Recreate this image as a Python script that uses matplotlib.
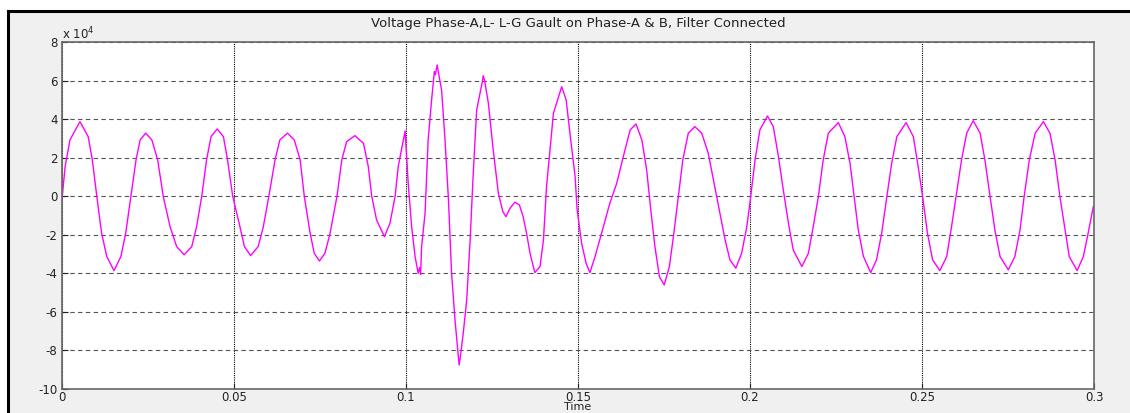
import matplotlib.pyplot as plt
from matplotlib.patches import Rectangle
from matplotlib.lines import Line2D

# time (s) and voltage (x 1e4 V)
time = [0.0000, 0.0010, 0.0024, 0.0053, 0.0077, 0.0089, 0.0102, 0.0116, 0.0131, 0.0152,
        0.0172, 0.0186, 0.0201, 0.0216, 0.0228, 0.0244, 0.0262, 0.0279, 0.0295, 0.0315,
        0.0334, 0.0356, 0.0378, 0.0392, 0.0407, 0.0421, 0.0434, 0.0452, 0.0470, 0.0482,
        0.0497, 0.0518, 0.0531, 0.0549, 0.0571, 0.0586, 0.0602, 0.0620, 0.0634, 0.0656,
        0.0676, 0.0693, 0.0705, 0.0722, 0.0734, 0.0749, 0.0765, 0.0780, 0.0800, 0.0814,
        0.0828, 0.0852, 0.0877, 0.0891, 0.0901, 0.0915, 0.0938, 0.0954, 0.0969, 0.0978,
        0.0998, 0.1007, 0.1017, 0.1027, 0.1036, 0.1040, 0.1043, 0.1046, 0.1056, 0.1065,
        0.1075, 0.1083, 0.1086, 0.1091, 0.1094, 0.1104, 0.1114, 0.1124, 0.1133, 0.1143,
        0.1152, 0.1155, 0.1158, 0.1167, 0.1177, 0.1187, 0.1196, 0.1206, 0.1222, 0.1225,
        0.1229, 0.1240, 0.1254, 0.1269, 0.1282, 0.1291, 0.1303, 0.1317, 0.1330, 0.1341,
        0.1351, 0.1361, 0.1375, 0.1390, 0.1400, 0.1409, 0.1419, 0.1429, 0.1453, 0.1466,
        0.1477, 0.1492, 0.1498, 0.1511, 0.1524, 0.1535, 0.1550, 0.1569, 0.1593, 0.1613,
        0.1632, 0.1652, 0.1669, 0.1686, 0.1700, 0.1712, 0.1724, 0.1737, 0.1751, 0.1766,
        0.1779, 0.1792, 0.1805, 0.1821, 0.1840, 0.1860, 0.1879, 0.1896, 0.1911, 0.1928,
        0.1942, 0.1959, 0.1976, 0.1991, 0.2000, 0.2015, 0.2029, 0.2051, 0.2068, 0.2083,
        0.2097, 0.2112, 0.2126, 0.2151, 0.2170, 0.2184, 0.2199, 0.2213, 0.2228, 0.2257,
        0.2276, 0.2291, 0.2303, 0.2315, 0.2330, 0.2351, 0.2368, 0.2383, 0.2398, 0.2412,
        0.2427, 0.2454, 0.2475, 0.2489, 0.2502, 0.2516, 0.2531, 0.2552, 0.2572, 0.2586,
        0.2599, 0.2615, 0.2630, 0.2649, 0.2669, 0.2683, 0.2698, 0.2712, 0.2727, 0.2751,
        0.2770, 0.2785, 0.2797, 0.2812, 0.2829, 0.2853, 0.2872, 0.2887, 0.2901, 0.2916,
        0.2928, 0.2951, 0.2969, 0.2983, 0.2998]
voltage = [-0.30, 1.54, 2.92, 3.87, 3.09, 1.88, 0.00, -1.92, -3.13, -3.86,
           -3.13, -1.92, 0.00, 1.88, 2.92, 3.27, 2.92, 1.88, 0.00, -1.58,
           -2.61, -3.04, -2.61, -1.58, 0.00, 1.88, 3.09, 3.49, 3.09, 1.88,
           0.00, -1.58, -2.61, -3.08, -2.61, -1.58, 0.00, 1.88, 2.92, 3.27,
           2.92, 1.88, 0.00, -1.92, -2.96, -3.36, -2.96, -1.92, 0.00, 1.88,
           2.83, 3.14, 2.75, 1.54, 0.00, -1.23, -2.10, -1.40, 0.00, 1.54,
           3.39, 0.67, -1.58, -3.13, -4.00, -3.70, -4.05, -2.61, -0.88, 2.92,
           5.00, 6.46, 6.30, 6.81, 6.50, 5.51, 2.92, -0.19, -3.98, -6.42,
           -8.20, -8.75, -8.40, -7.10, -5.38, -2.27, 1.19, 4.48, 5.90, 6.25,
           6.00, 4.82, 2.40, 0.16, -0.80, -1.06, -0.62, -0.31, -0.45, -1.06,
           -1.92, -2.96, -3.96, -3.65, -2.27, 0.50, 2.40, 4.30, 5.68, 5.00,
           3.27, 1.02, -0.71, -2.44, -3.48, -3.96, -3.13, -1.92, -0.36, 0.67,
           2.05, 3.44, 3.75, 2.92, 1.36, -0.71, -2.61, -4.17, -4.60, -3.65,
           -1.92, -0.02, 1.88, 3.27, 3.61, 3.27, 2.23, 0.67, -0.71, -2.27,
           -3.30, -3.73, -2.96, -1.58, -0.36, 1.88, 3.44, 4.16, 3.61, 2.05,
           0.33, -1.40, -2.79, -3.65, -2.96, -1.58, -0.02, 1.88, 3.27, 3.82,
           3.09, 1.71, -0.02, -1.75, -3.13, -3.96, -3.30, -1.92, -0.02, 1.71,
           3.09, 3.82, 3.09, 1.54, -0.02, -1.92, -3.30, -3.86, -3.13, -1.58,
           -0.02, 1.88, 3.27, 3.92, 3.27, 1.88, -0.02, -1.75, -3.13, -3.82,
           -3.13, -1.75, -0.02, 1.88, 3.27, 3.87, 3.27, 1.88, -0.02, -1.75,
           -3.13, -3.86, -3.13, -1.92, -0.54]

xticks = [0, 0.05, 0.1, 0.15, 0.2, 0.25, 0.3]
xtick_labels = ["0", "0.05", "0.1", "0.15", "0.2", "0.25", "0.3"]
yticks = [-10, -8, -6, -4, -2, 0, 2, 4, 6, 8]

plt.rcParams['font.family'] = ['DejaVu Sans']
plt.rcParams['axes.unicode_minus'] = False
plt.rcParams['mathtext.fontset'] = 'dejavusans'

fig = plt.figure(figsize=(11.3, 4.13), dpi=100, facecolor='white')
W, H = 1130, 413
# gray window background with black frame on left and top
fig.patches.append(Rectangle((7.5 / W, 0), 1, 1 - 11 / H, transform=fig.transFigure,
                             facecolor='#f0f0f0', edgecolor='none', zorder=-10))
fig.lines.append(Line2D([7.5 / W, 7.5 / W], [0, 1 - 11 / H], transform=fig.transFigure,
                        color='black', linewidth=2.2))
fig.lines.append(Line2D([7.5 / W, 1], [1 - 11 / H, 1 - 11 / H], transform=fig.transFigure,
                        color='black', linewidth=2.2))

ax = fig.add_axes([61.7 / W, 1 - 389 / H, (1094 - 61.7) / W, (389 - 42) / H])
ax.plot(time, voltage, color='#ff00ff', linewidth=1.0)

ax.set_xlim(0, 0.3)
ax.set_ylim(-10, 8)
ax.set_xticks(xticks)
ax.set_xticklabels(xtick_labels)
ax.set_yticks(yticks)
ax.tick_params(direction='in', length=4, labelsize=8.5, colors='#222222', pad=3)
ax.tick_params(axis='x', pad=1.5)
for s in ax.spines.values():
    s.set_color('#666666')
    s.set_linewidth(1.2)

ax.xaxis.grid(True, linestyle=(0, (1, 1)), color='black', linewidth=0.8)
ax.yaxis.grid(True, linestyle=(0, (4, 3)), color='#555555', linewidth=0.8)

ax.set_title("Voltage Phase-A,L- L-G Gault on Phase-A & B, Filter Connected",
             fontsize=9.5, pad=11, color='#222222')
ax.set_xlabel("Time", fontsize=8, labelpad=-1.5, color='#222222')
ax.text(0.0, 1.008, "x 10$^{4}$", transform=ax.transAxes, fontsize=8.5, color='#222222')

fig.savefig("out.png", dpi=100, facecolor=fig.get_facecolor())
